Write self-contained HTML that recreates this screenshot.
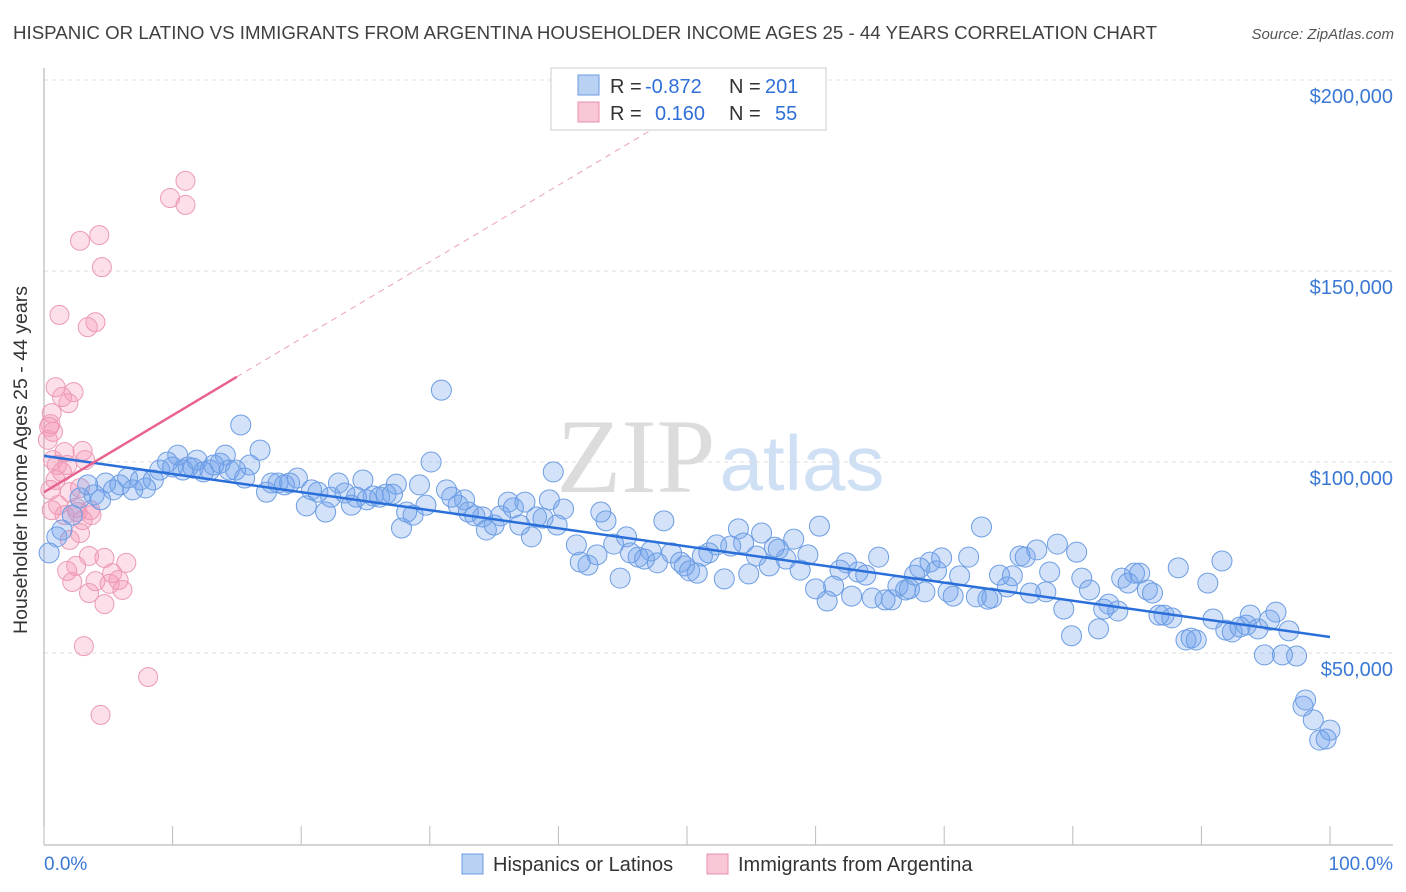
<!DOCTYPE html>
<html><head><meta charset="utf-8">
<style>
body{margin:0;background:#fff;font-family:"Liberation Sans",sans-serif;}
svg{display:block}
</style></head>
<body>
<svg id="chart" width="1406" height="892" viewBox="0 0 1406 892">
<text x="13" y="39" font-size="18" textLength="1144" lengthAdjust="spacingAndGlyphs" fill="#404040">HISPANIC OR LATINO VS IMMIGRANTS FROM ARGENTINA HOUSEHOLDER INCOME AGES 25 - 44 YEARS CORRELATION CHART</text>
<text x="1394" y="39" font-size="15" fill="#555" font-style="italic" text-anchor="end">Source: ZipAtlas.com</text>
<g>
<text x="636" y="492" font-size="106" font-family="Liberation Serif,serif" fill="#dcdcdc" text-anchor="middle">ZIP</text>
<text x="802" y="490" font-size="78" fill="#cfe0f5" text-anchor="middle">atlas</text>
</g>
<g id="grid"></g>
<g id="axes"></g>
<g id="pink"></g>
<g id="blue"></g>
<g id="lines"></g>
<text x="22" y="455" font-size="19.5" fill="#333" text-anchor="middle" transform="rotate(-90 27 455)">Householder Income Ages 25 - 44 years</text>
<g>
<rect x="551" y="68" width="275" height="62" fill="#fff" stroke="#ccc"/>
<rect x="578" y="75" width="21" height="20" fill="#b9d2f3" stroke="#6b9be0"/>
<rect x="578" y="102" width="21" height="20" fill="#f8c6d5" stroke="#e890ac"/>
<text y="93" font-size="20" fill="#333"><tspan x="610">R =</tspan><tspan x="645" fill="#2f6fd8">-0.872</tspan><tspan x="729">N =</tspan><tspan x="765" fill="#2f6fd8">201</tspan></text>
<text y="120" font-size="20" fill="#333"><tspan x="610">R =</tspan><tspan x="655" fill="#2f6fd8">0.160</tspan><tspan x="729">N =</tspan><tspan x="775" fill="#2f6fd8">55</tspan></text>
</g>
<g>
<rect x="462" y="854" width="21" height="20" fill="#b9d2f3" stroke="#6b9be0"/>
<text x="493" y="871" font-size="20" fill="#333">Hispanics or Latinos</text>
<rect x="707" y="854" width="21" height="20" fill="#f8c6d5" stroke="#e890ac"/>
<text x="738" y="871" font-size="20" fill="#333">Immigrants from Argentina</text>
</g>
</svg>
<script>
const yTicks=[50,100,150,200];
const yTickLabels=["$50,000","$100,000","$150,000","$200,000"];
const xTicks=[0,10,20,30,40,50,60,70,80,90,100];
const blueX=[0.4,1.0,1.4,2.2,2.8,3.4,3.9,4.4,4.8,5.4,5.9,6.5,6.9,7.5,7.9,8.5,9.0,9.6,10.0,10.4,10.8,11.2,11.6,11.9,12.4,12.9,13.2,13.7,14.1,14.4,14.9,15.3,15.6,16.0,16.8,17.3,17.7,18.2,18.7,19.1,19.7,20.4,20.8,21.3,21.9,22.3,22.9,23.4,23.9,24.3,24.8,25.1,25.6,26.1,26.6,27.1,27.4,27.8,28.2,28.7,29.2,29.7,30.1,30.9,31.3,31.7,32.2,32.7,33.0,33.5,34.1,34.4,35.0,35.5,36.1,36.5,37.0,37.4,37.9,38.3,38.8,39.3,39.6,39.9,40.4,41.4,41.7,42.3,43.0,43.3,43.7,44.3,44.8,45.3,45.6,46.2,46.7,47.2,47.7,48.2,48.8,49.5,49.8,50.2,50.8,51.2,51.7,52.3,52.9,53.4,54.0,54.4,54.8,55.4,55.8,56.4,56.8,57.1,57.7,58.3,58.8,59.4,60.0,60.3,60.9,61.4,61.9,62.4,62.8,63.3,63.9,64.4,64.9,65.4,65.9,66.4,67.0,67.3,67.7,68.1,68.5,68.9,69.4,69.8,70.3,70.7,71.2,71.9,72.5,72.9,73.4,73.7,74.3,74.9,75.3,75.9,76.3,76.7,77.2,77.9,78.2,78.8,79.3,79.9,80.3,80.7,81.3,82.0,82.4,82.8,83.5,83.8,84.3,84.8,85.2,85.8,86.2,86.7,87.1,87.7,88.2,88.8,89.2,89.6,90.5,90.9,91.6,91.9,92.4,93.0,93.5,93.8,94.4,94.9,95.3,95.8,96.3,96.8,97.4,97.9,98.1,98.7,99.2,99.7,100.0];
const blueY=[76.2,80.4,82.2,86.1,90.6,94.0,91.4,90.1,94.5,92.7,94.0,95.8,92.7,95.3,93.2,95.3,97.9,100.0,98.7,101.8,97.9,98.7,98.4,100.5,97.4,97.9,99.2,99.7,101.8,97.9,97.9,109.7,95.8,99.2,103.1,92.1,94.5,94.5,94.0,94.5,95.8,88.5,92.7,92.1,86.9,90.8,94.5,91.9,88.7,90.8,95.3,90.1,91.1,90.8,91.6,91.6,94.2,82.7,86.9,86.1,94.0,88.7,100.0,118.8,92.7,90.8,88.7,90.1,86.9,85.9,85.6,82.2,83.5,85.9,89.5,88.0,83.5,89.5,80.4,85.6,85.3,90.1,97.4,83.5,87.7,78.3,73.8,73.0,75.7,86.9,84.6,78.5,69.6,80.4,76.2,75.1,74.6,76.7,73.6,84.6,76.2,73.8,72.8,71.5,70.9,75.4,76.2,78.3,69.4,78.0,82.5,78.8,70.7,75.4,81.4,72.8,77.7,77.2,74.6,79.8,71.7,75.7,66.8,83.2,63.6,67.5,71.7,73.6,64.9,71.2,70.4,64.4,75.1,63.9,63.9,67.5,66.5,66.8,70.4,72.3,66.0,73.8,71.5,74.9,66.0,64.9,70.2,75.1,64.7,83.0,64.1,64.4,70.4,67.3,70.2,75.4,75.1,65.7,77.0,66.0,71.2,78.5,61.5,54.5,76.4,69.6,66.5,56.3,61.5,62.8,61.0,69.6,68.3,70.9,70.9,66.5,65.7,59.9,59.9,59.2,72.3,53.4,53.9,53.4,68.3,58.9,74.1,56.0,55.5,56.8,57.3,59.9,56.3,49.5,58.6,60.7,49.5,55.8,49.2,36.1,37.7,32.5,27.2,27.5,29.8];
const pinkX=[11.0,9.8,11.0,2.8,4.3,4.5,1.2,4.0,3.4,0.9,2.3,1.4,1.9,0.6,0.5,0.7,0.4,3.0,1.6,0.7,1.0,1.8,1.4,0.5,2.0,2.8,1.1,3.6,2.5,1.6,3.7,3.0,2.0,2.8,0.6,3.5,4.7,6.4,2.5,1.8,5.3,4.0,2.2,5.1,5.8,6.1,3.5,4.7,3.1,8.1,4.4,0.3,3.2,0.9,2.6];
const pinkY=[173.6,169.1,167.3,157.9,159.4,151.0,138.5,136.6,135.3,119.6,118.3,117.0,115.4,112.8,109.9,107.9,109.2,102.9,102.6,100.5,99.2,99.2,97.4,92.7,92.1,93.2,88.7,87.4,88.0,86.1,86.1,84.8,79.6,81.4,87.4,75.4,74.9,73.6,72.8,71.5,70.9,68.8,68.6,68.1,69.1,66.5,65.7,62.8,51.8,43.7,33.8,105.8,100.5,95.3,86.9];
const blueTrendX=[0,100];
const blueTrendY=[101.6,54.2];
const pinkTrendX=[0,15,49];
const pinkTrendY=[92.1,122.3,190.5];

const NS="http://www.w3.org/2000/svg";
const X0=44,X1=1330,Y0=844,PXK=3.82;
function sx(p){return X0+(X1-X0)*p/100;}
function sy(k){return Y0-k*PXK;}
function mk(tag,attrs,parent){const e=document.createElementNS(NS,tag);for(const k in attrs)e.setAttribute(k,attrs[k]);parent.appendChild(e);return e;}
const grid=document.getElementById('grid'),axes=document.getElementById('axes');
yTicks.forEach((t,i)=>{
  const l=mk('line',{x1:X0,x2:1393,y1:sy(t),y2:sy(t),stroke:'#dcdcdc','stroke-dasharray':'4,4'},grid);
  
  
  const tx=mk('text',{x:1393,y:sy(t)+23,'font-size':20,fill:'#3a78d6','text-anchor':'end'},grid);
  tx.textContent=yTickLabels[i];
  
  
});
const ya=mk('line',{x1:X0,x2:X0,y1:68,y2:845,stroke:'#aaa'},axes);


const xa=mk('line',{x1:X0,x2:1393,y1:845,y2:845,stroke:'#aaa'},axes);


xTicks.forEach(t=>{
  const l=mk('line',{x1:sx(t),x2:sx(t),y1:826,y2:845,stroke:'#bbb'},axes);
  
  
});
const xl0=mk('text',{x:44,y:870,'font-size':19,fill:'#3a78d6'},axes);xl0.textContent=xTicks[0].toFixed(1)+'%';


const xl1=mk('text',{x:1393,y:870,'font-size':19,fill:'#3a78d6','text-anchor':'end'},axes);xl1.textContent=xTicks[xTicks.length-1].toFixed(1)+'%';



const pg=document.getElementById('pink');
pinkX.forEach((x,i)=>{
  const c=mk('circle',{cx:sx(x),cy:sy(pinkY[i]),r:9.5,fill:'rgba(244,150,180,0.3)',stroke:'#ec9ab5','stroke-width':1},pg);
  
  
});
const bg=document.getElementById('blue');
blueX.forEach((x,i)=>{
  const c=mk('circle',{cx:sx(x),cy:sy(blueY[i]),r:10,fill:'rgba(110,160,235,0.3)',stroke:'#6c9de3','stroke-width':1},bg);
  
  
});
const lg=document.getElementById('lines');
const bl=mk('line',{x1:sx(blueTrendX[0]),y1:sy(blueTrendY[0]),x2:sx(blueTrendX[1]),y2:sy(blueTrendY[1]),stroke:'#2a6fd9','stroke-width':2.5},lg);


const pl=mk('line',{x1:sx(pinkTrendX[0]),y1:sy(pinkTrendY[0]),x2:sx(pinkTrendX[1]),y2:sy(pinkTrendY[1]),stroke:'#e8638f','stroke-width':2.5},lg);


const pd=mk('line',{x1:sx(pinkTrendX[1]),y1:sy(pinkTrendY[1]),x2:sx(pinkTrendX[2]),y2:sy(pinkTrendY[2]),stroke:'#eba0b8','stroke-width':1,'stroke-dasharray':'6,5'},lg);


</script>
</body></html>
